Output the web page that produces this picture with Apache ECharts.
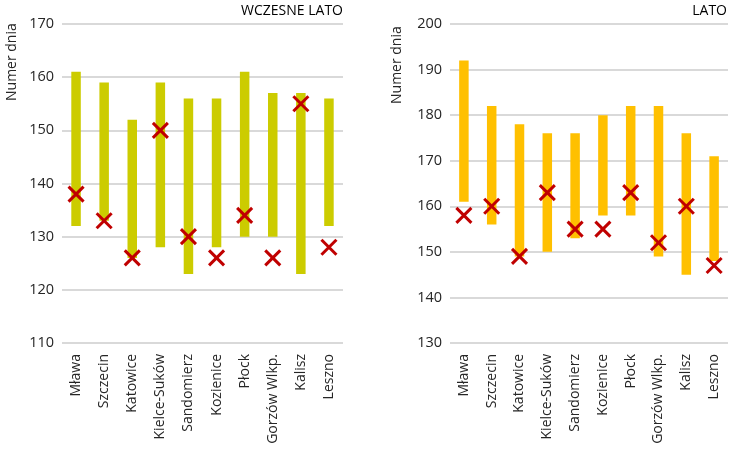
<!DOCTYPE html>
<html><head><meta charset="utf-8">
<script src="https://cdn.jsdelivr.net/npm/echarts@6/dist/echarts.min.js"></script>
<style>html,body{margin:0;padding:0;background:#fff}#c{width:738px;height:457px}</style>
</head><body><div id="c"></div>
<script>
const categories = ['Mława','Szczecin','Katowice','Kielce-Suków','Sandomierz','Kozienice','Płock','Gorzów Wlkp.','Kalisz','Leszno'];
// WCZESNE LATO
const earlyLow  = [132,133,126,128,123,128,130,130,123,132];
const earlyHigh = [161,159,152,159,156,156,161,157,157,156];
const earlyMark = [138,133,126,150,130,126,134,126,155,128];
// LATO
const summerLow  = [161,156,149,150,153,158,158,149,145,148];
const summerHigh = [192,182,178,176,176,180,182,182,176,171];
const summerMark = [158,160,149,163,155,155,163,152,160,147];
const leftTicks = {min:110, max:170, interval:10};
const rightTicks = {min:130, max:200, interval:10};

const FONT = '"Open Sans", "Noto Sans", sans-serif';

function rangeRender(color){
  return function(params, api){
    const lo = api.coord([api.value(0), api.value(1)]);
    const hi = api.coord([api.value(0), api.value(2)]);
    const w = 9.5;
    return {type:'rect', shape:{x:lo[0]-w/2, y:hi[1], width:w, height:lo[1]-hi[1]}, style:{fill:color}};
  };
}
function xRender(params, api){
  const p = api.coord([api.value(0), api.value(1)]);
  const s = 7.5;
  const st = {stroke:'#C00000', lineWidth:3, fill:null};
  return {type:'group', children:[
    {type:'line', shape:{x1:p[0]-s,y1:p[1]-s,x2:p[0]+s,y2:p[1]+s}, style:st},
    {type:'line', shape:{x1:p[0]-s,y1:p[1]+s,x2:p[0]+s,y2:p[1]-s}, style:st}
  ]};
}
const rangeData = (lo,hi)=>categories.map((c,i)=>[i,lo[i],hi[i]]);
const markData = (m)=>categories.map((c,i)=>[i,m[i]]);

function xAx(idx){
  return {type:'category', gridIndex:idx, data:categories,
    axisLine:{show:false}, axisTick:{show:false},
    axisLabel:{rotate:90, interval:0, fontSize:14, color:'#262626', fontFamily:FONT, margin:11}};
}
function yAx(idx, t){
  return {type:'value', gridIndex:idx, min:t.min, max:t.max, interval:t.interval,
    axisLine:{show:false}, axisTick:{show:false},
    axisLabel:{fontSize:14.5, color:'#262626', fontFamily:FONT, margin:8},
    splitLine:{lineStyle:{color:'#D9D9D9', width:2}}};
}

const chart = echarts.init(document.getElementById('c'), null, {renderer:'canvas'});
chart.setOption({
  animation:false,
  grid:[
    {left:62, top:24, width:281, height:319},
    {left:450, top:24, width:278, height:319}
  ],
  xAxis:[xAx(0), xAx(1)],
  yAxis:[yAx(0,leftTicks), yAx(1,rightTicks)],
  graphic:[
    {type:'text', x:343, y:4, style:{text:'WCZESNE LATO', font:'14px '+FONT, fill:'#000', textAlign:'right'}},
    {type:'text', x:727, y:4, style:{text:'LATO', font:'14px '+FONT, fill:'#000', textAlign:'right'}},
    {type:'text', x:5, y:101, rotation:Math.PI/2, style:{text:'Numer dnia', font:'14px '+FONT, fill:'#262626'}},
    {type:'text', x:390, y:104, rotation:Math.PI/2, style:{text:'Numer dnia', font:'14px '+FONT, fill:'#262626'}}
  ],
  series:[
    {type:'custom', xAxisIndex:0, yAxisIndex:0, renderItem:rangeRender('#CCCC00'), data:rangeData(earlyLow,earlyHigh), encode:{x:0,y:[1,2]}},
    {type:'custom', xAxisIndex:0, yAxisIndex:0, renderItem:xRender, data:markData(earlyMark), encode:{x:0,y:1}, z:3},
    {type:'custom', xAxisIndex:1, yAxisIndex:1, renderItem:rangeRender('#FFC000'), data:rangeData(summerLow,summerHigh), encode:{x:0,y:[1,2]}},
    {type:'custom', xAxisIndex:1, yAxisIndex:1, renderItem:xRender, data:markData(summerMark), encode:{x:0,y:1}, z:3}
  ]
});
</script></body></html>
